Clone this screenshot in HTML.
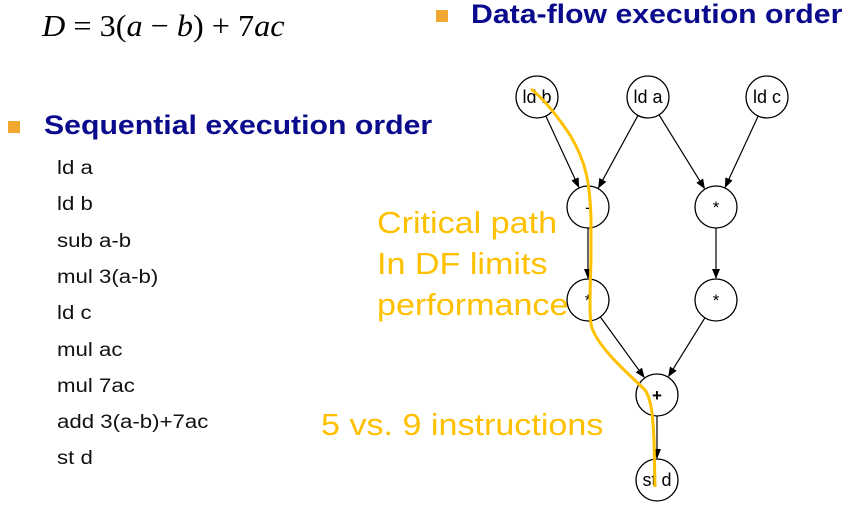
<!DOCTYPE html>
<html><head><meta charset="utf-8"><style>
body{margin:0;background:#fff;width:857px;height:519px;overflow:hidden;position:relative;font-family:"Liberation Sans",sans-serif}
.a{position:absolute;white-space:nowrap;transform-origin:0 0}
.bul{position:absolute;width:12px;height:12px;background:#F0A830}
.h{color:#0A0A8C;font-weight:bold;font-size:27px;transform:scaleX(1.12)}
.li{font-size:19px;color:#111;transform:scaleX(1.17)}
.or{color:#FFC000;font-size:31px;transform:scaleX(1.1)}
</style></head><body>
<div class="a" style="left:42px;top:8px;font-family:'Liberation Serif',serif;font-size:31px;transform:scaleX(1.04)"><i>D</i> = 3(<i>a</i> − <i>b</i>) + 7<i>ac</i></div>
<div class="bul" style="left:436px;top:10px"></div>
<div class="a h" style="left:471px;top:-1px">Data-flow execution order</div>
<div class="bul" style="left:8px;top:121px"></div>
<div class="a h" style="left:44px;top:110px">Sequential execution order</div>
<div id="list"></div>
<div class="a or" style="left:377px;top:202px;line-height:41px">Critical path<br>In DF limits<br>performance</div>
<div class="a or" style="left:321px;top:407px">5 vs. 9 instructions</div>
<svg id="g" width="857" height="519" style="position:absolute;left:0;top:0">
<defs><marker id="ar" markerWidth="10" markerHeight="10" refX="9" refY="5" orient="auto" markerUnits="userSpaceOnUse"><path d="M0,1 L10,5 L0,9 z" fill="#000"/></marker></defs>
</svg>
<script>
const instrs=["ld a","ld b","sub a-b","mul 3(a-b)","ld c","mul ac","mul 7ac","add 3(a-b)+7ac","st d"];
const nodeLabels=["ld b","ld a","ld c","-","*","*","*","+","st d"];
const nodeX=[537,648,767,588,716,588,716,657,657];
const nodeY=[97,97,97,207,207,300,300,395,480];
const edges=[[0,3],[1,3],[1,4],[2,4],[3,5],[4,6],[5,7],[6,7],[7,8]];
const L=document.getElementById('list');
instrs.forEach((t,i)=>{const d=document.createElement('div');d.className='a li';d.style.left='57px';d.style.top=(158+i*36.3)+'px';d.textContent=t;


L.appendChild(d);});
const S=document.getElementById('g'),ns='http://www.w3.org/2000/svg',R=21;
edges.forEach(([a,b])=>{const dx=nodeX[b]-nodeX[a],dy=nodeY[b]-nodeY[a],l=Math.hypot(dx,dy);
const ln=document.createElementNS(ns,'line');
ln.setAttribute('x1',nodeX[a]+dx/l*R);ln.setAttribute('y1',nodeY[a]+dy/l*R);
ln.setAttribute('x2',nodeX[b]-dx/l*(R+1));ln.setAttribute('y2',nodeY[b]-dy/l*(R+1));
ln.setAttribute('stroke','#000');ln.setAttribute('stroke-width','1.2');ln.setAttribute('marker-end','url(#ar)');


S.appendChild(ln);});
nodeLabels.forEach((t,i)=>{const c=document.createElementNS(ns,'circle');c.setAttribute('cx',nodeX[i]);c.setAttribute('cy',nodeY[i]);c.setAttribute('r',R);c.setAttribute('fill','#fff');c.setAttribute('stroke','#000');c.setAttribute('stroke-width','1.3');


S.appendChild(c);
const tx=document.createElementNS(ns,'text');tx.setAttribute('x',nodeX[i]);tx.setAttribute('y',nodeY[i]+6);tx.setAttribute('text-anchor','middle');tx.setAttribute('font-size',t.length>1?18:17);tx.setAttribute('font-family','Liberation Sans, sans-serif');if(t==='+')tx.setAttribute('font-weight','bold');tx.textContent=t;


S.appendChild(tx);});
const p=document.createElementNS(ns,'path');
p.setAttribute('d','M531,89 C545,100 560,120 570,135 C585,160 590,180 591,220 L591,260 C590,290 589,320 592,328 C600,350 630,375 645,390 C652,400 653,420 654,440 L655,487');
p.setAttribute('fill','none');p.setAttribute('stroke','#FFC000');p.setAttribute('stroke-width','3');


S.appendChild(p);
</script>
</body></html>
